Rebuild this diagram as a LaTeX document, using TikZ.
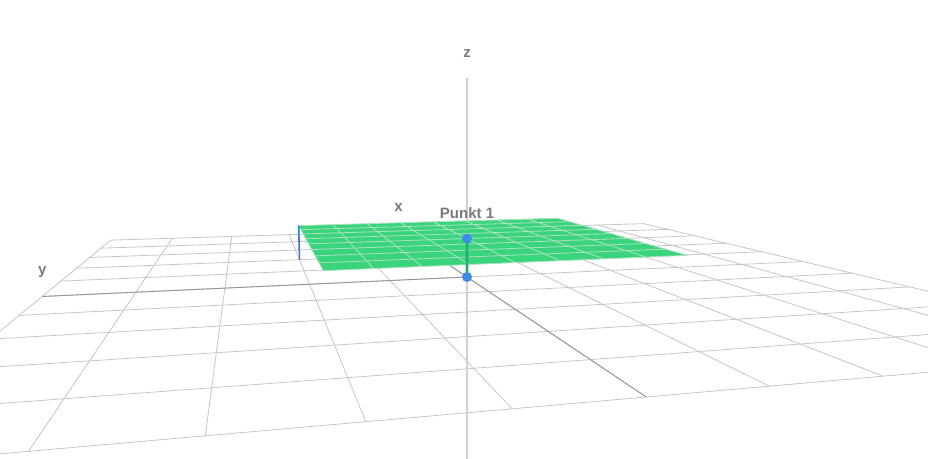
\documentclass[tikz,border=0pt]{standalone}
\usepackage{fontspec}
\setmainfont{Liberation Sans}
\definecolor{gridc}{RGB}{198,198,198}
\definecolor{axisc}{RGB}{150,150,150}
\definecolor{zaxc}{RGB}{208,208,208}
\definecolor{planec}{RGB}{58,212,124}
\definecolor{planeline}{RGB}{170,226,192}
\definecolor{dotc}{RGB}{58,140,232}
\definecolor{segc}{RGB}{40,172,112}
\definecolor{cornerc}{RGB}{52,122,222}
\definecolor{txtc}{RGB}{122,122,122}
% world (X,Y,Z) -> image pixel coordinate, named #1
\newcommand\wpt[4]{%
  \pgfmathsetmacro\pR{0.0386+(#2)*(-0.25149)+(#3)*(-0.96786)}%
  \pgfmathsetmacro\pF{10.580+(#2)*0.96786+(#3)*(-0.25149)}%
  \pgfmathsetmacro\pU{(#4)-1.8929}%
  \pgfmathsetmacro\pZ{\pF*0.99287-\pU*0.11920}%
  \pgfmathsetmacro\pY{\pF*0.11920+\pU*0.99287}%
  \pgfmathsetmacro\pu{464+833*\pR/\pZ}%
  \pgfmathsetmacro\pv{229-833*\pY/\pZ}%
  \coordinate (#1) at (\pu pt,-\pv pt);%
}
\tikzset{
  gridline/.style={draw=gridc,line width=0.8pt},
  axisline/.style={draw=axisc,line width=0.9pt},
  zaxis/.style={draw=zaxc,line width=1.8pt},
  planeface/.style={fill=planec,draw=planeline,line width=0.8pt},
  planegrid/.style={draw=planeline,line width=0.8pt},
  dotnode/.style={circle,fill=dotc,inner sep=0pt,minimum size=10pt},
  lbl/.style={text=txtc,font=\bfseries\fontsize{15}{18}\selectfont,inner sep=0pt},
}
\begin{document}
\begin{tikzpicture}
\useasboundingbox (0,0) rectangle (928pt,-458pt);
\clip (0,0) rectangle (928pt,-458pt);
% floor grid
\foreach \k in {-5,...,5}{
  \wpt{ga}{\k}{-5}{0}\wpt{gb}{\k}{5}{0}
  \draw[gridline] (ga) -- (gb);
  \wpt{gc}{-5}{\k}{0}\wpt{gd}{5}{\k}{0}
  \draw[gridline] (gc) -- (gd);
}
% axes in the floor
\wpt{xa}{-5}{0}{0}\wpt{xb}{5}{0}{0}
\draw[axisline] (xa) -- (xb);
\wpt{O}{0}{0}{0}\wpt{yb}{0}{5}{0}
\draw[axisline] (O) -- (yb);
% z axis
\wpt{za}{0}{0}{-3}\wpt{zb}{0}{0}{2.53}
\draw[zaxis] (za) -- (zb);
% plane z = 0.5
\wpt{c1}{-2}{-2}{0.5}\wpt{c2}{2}{-2}{0.5}\wpt{c3}{2}{2}{0.5}\wpt{c4}{-2}{2}{0.5}
\draw[planeface] (c1) -- (c2) -- (c3) -- (c4) -- cycle;
\foreach \k in {-1.5,-1,...,1.5}{
  \wpt{pa}{\k}{-2}{0.5}\wpt{pb}{\k}{2}{0.5}
  \draw[planegrid] (pa) -- (pb);
  \wpt{pc}{-2}{\k}{0.5}\wpt{pd}{2}{\k}{0.5}
  \draw[planegrid] (pc) -- (pd);
}
% blue edge at the corner
\wpt{e0}{2}{2}{0}
\draw[draw=cornerc,line width=1.6pt] (c3) -- (e0);
% point and its projection
\wpt{P}{0}{0}{0.5}
\draw[draw=segc,line width=2.6pt] (P) -- (O);
\node[dotnode] (pdot) at (P) {};
\node[dotnode] (odot) at (O) {};
% labels
\node[lbl] (plbl) at ([yshift=25pt]P) {Punkt 1};
\node[lbl] (xl) at ([yshift=24pt]xb) {x};
\node[lbl] (yl) at ([yshift=24pt]yb) {y};
\node[lbl] (zl) at ([yshift=24pt]zb) {z};
\end{tikzpicture}
\end{document}
